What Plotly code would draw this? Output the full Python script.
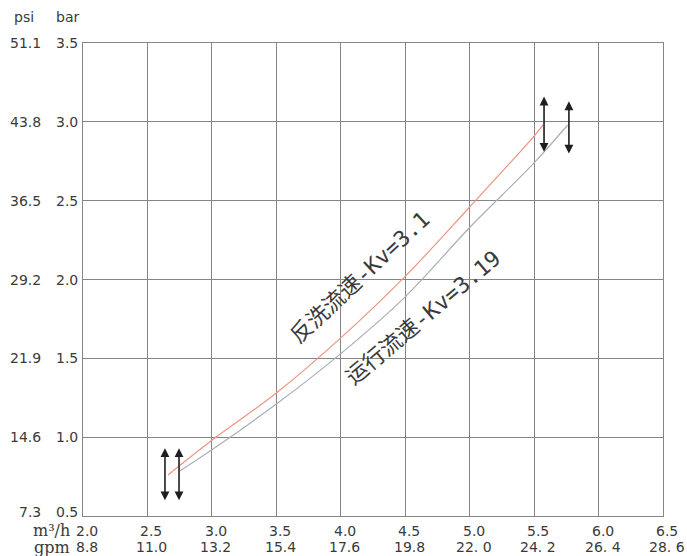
import plotly.graph_objects as go

# Flow (m3/h) and pressure-drop (bar) readings for the two valve curves
backwash_q = [2.66, 3.0, 3.5, 4.0, 4.5, 5.0, 5.5, 5.57]
backwash_p = [0.76, 0.98, 1.28, 1.63, 2.02, 2.46, 2.91, 2.98]
service_q = [2.75, 3.0, 3.5, 4.0, 4.5, 5.0, 5.5, 5.76]
service_p = [0.785, 0.92, 1.21, 1.53, 1.89, 2.33, 2.74, 2.98]

# Axis tick labels
flow_m3h = [2.0, 2.5, 3.0, 3.5, 4.0, 4.5, 5.0, 5.5, 6.0, 6.5]
flow_m3h_text = ["2.0", "2.5", "3.0", "3.5", "4.0", "4.5", "5.0", "5.5", "6.0", "6.5"]
flow_gpm_text = ["8.8", "11.0", "13.2", "15.4", "17.6", "19.8", "22. 0", "24. 2", "26. 4", "28. 6"]
press_bar = [0.5, 1.0, 1.5, 2.0, 2.5, 3.0, 3.5]
press_bar_text = ["0.5", "1.0", "1.5", "2.0", "2.5", "3.0", "3.5"]
press_psi_text = ["7.3", "14.6", "21.9", "29.2", "36.5", "43.8", "51.1"]

# Operating-range markers (flow, low pressure, high pressure)
range_q = [2.636, 2.745, 5.577, 5.77]
range_p_low = [0.59, 0.59, 2.80, 2.79]
range_p_high = [0.93, 0.93, 3.16, 3.13]

# Curve captions
backwash_label = "反洗流速-Kv=3.1"
service_label = "运行流速-Kv=3.19"

NUM_FONT = dict(family="DejaVu Sans", size=14, color="#3a3a3a")
GRID = "#858585"

fig = go.Figure()
fig.add_trace(go.Scatter(x=service_q, y=service_p, mode="lines",
                         line=dict(color="#a9afb8", width=1.2, shape="spline"),
                         hoverinfo="skip", showlegend=False))
fig.add_trace(go.Scatter(x=backwash_q, y=backwash_p, mode="lines",
                         line=dict(color="#ee9580", width=1.2, shape="spline"),
                         hoverinfo="skip", showlegend=False))

ann = []
# left axis: psi and bar columns (bottom row sits a little above its gridline)
for i, (p, ps, pb) in enumerate(zip(press_bar, press_psi_text, press_bar_text)):
    lift = 4 if i == 0 else 0
    ann.append(dict(x=0, xref="paper", y=p, yref="y", text=ps, showarrow=False,
                    xanchor="right", xshift=-40, yshift=lift, font=NUM_FONT))
    ann.append(dict(x=0, xref="paper", y=p, yref="y", text=pb, showarrow=False,
                    xanchor="right", xshift=-3, yshift=lift, font=NUM_FONT))
ann.append(dict(x=0, xref="paper", y=1, yref="paper", text="psi", showarrow=False,
                xanchor="right", yanchor="middle", xshift=-47, yshift=26, font=NUM_FONT))
ann.append(dict(x=0, xref="paper", y=1, yref="paper", text="bar", showarrow=False,
                xanchor="right", yanchor="middle", xshift=-2, yshift=26, font=NUM_FONT))

# bottom axis: m3/h and gpm rows
for q, tm, tg in zip(flow_m3h, flow_m3h_text, flow_gpm_text):
    ann.append(dict(x=q, xref="x", y=0, yref="paper", text=tm, showarrow=False,
                    xanchor="center", yanchor="middle", xshift=4, yshift=-15, font=NUM_FONT))
    ann.append(dict(x=q, xref="x", y=0, yref="paper", text=tg, showarrow=False,
                    xanchor="center", yanchor="middle", xshift=4, yshift=-31, font=NUM_FONT))
SERIF = dict(family="DejaVu Serif", size=16, color="#3a3a3a")
ann.append(dict(x=0, xref="paper", y=0, yref="paper", text="m³/h", showarrow=False,
                xanchor="right", yanchor="middle", xshift=-11, yshift=-14, font=SERIF))
ann.append(dict(x=0, xref="paper", y=0, yref="paper", text="gpm", showarrow=False,
                xanchor="right", yanchor="middle", xshift=-11, yshift=-31, font=SERIF))

# double-headed range arrows
for q, lo, hi in zip(range_q, range_p_low, range_p_high):
    ann.append(dict(x=q, y=hi, xref="x", yref="y", ax=q, ay=lo, axref="x", ayref="y",
                    text="", showarrow=True, arrowhead=2, startarrowhead=2,
                    arrowside="end+start", arrowsize=1.1, startarrowsize=1.1,
                    arrowwidth=1.6, arrowcolor="#1e1e1e"))

# curve captions along the curves
CAP = dict(family="DejaVu Sans Mono, Noto Sans CJK SC", size=22, color="#3a3a3a")
ann.append(dict(x=4.15, y=2.01, xref="x", yref="y", text=backwash_label, showarrow=False,
                textangle=-43, font=CAP))
ann.append(dict(x=4.64, y=1.76, xref="x", yref="y", text=service_label, showarrow=False,
                textangle=-40, font=CAP))

fig.update_layout(
    width=687, height=556,
    margin=dict(l=83, r=24, t=43, b=40),
    paper_bgcolor="white", plot_bgcolor="white",
    annotations=ann,
    xaxis=dict(range=[2.0, 6.5], tickvals=flow_m3h, showticklabels=False, ticks="",
               showgrid=True, gridcolor=GRID, gridwidth=1, zeroline=False,
               showline=True, linecolor=GRID, linewidth=1.2, mirror=True),
    yaxis=dict(range=[0.5, 3.5], tickvals=press_bar, showticklabels=False, ticks="",
               showgrid=True, gridcolor=GRID, gridwidth=1, zeroline=False,
               showline=True, linecolor=GRID, linewidth=1.2, mirror=True),
)

fig.write_html("out.html")
